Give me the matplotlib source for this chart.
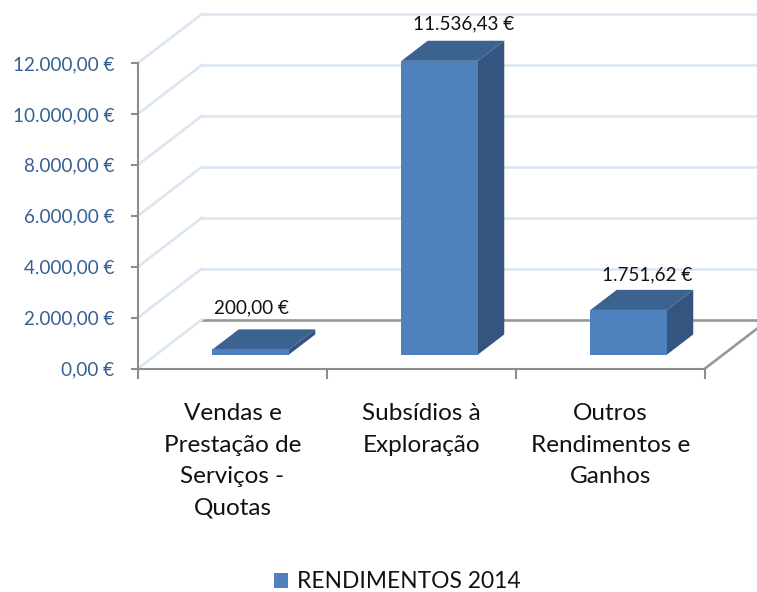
import numpy as np
import matplotlib
matplotlib.use("Agg")
import matplotlib.pyplot as plt

plt.rcParams["font.family"] = ["Lato", "DejaVu Sans"]

# data
categories = ["Vendas e\nPrestação de\nServiços -\nQuotas", "Subsídios à\nExploração", "Outros\nRendimentos e\nGanhos"]
values = [200.00, 11536.43, 1751.62]
value_labels = ["200,00 €", "11.536,43 €", "1.751,62 €"]
y_ticks = [0, 2000, 4000, 6000, 8000, 10000, 12000]
y_tick_labels = ["0,00 €", "2.000,00 €", "4.000,00 €", "6.000,00 €", "8.000,00 €", "10.000,00 €", "12.000,00 €"]
series_name = "RENDIMENTOS 2014"

# style
front_col = "#4F81BD"
top_col = "#3C6390"
side_col = "#34557F"
grid_col = "#DCE6F2"
axis_col = "#8C8C8C"
floor_col = "#989898"
tick_col = "#376092"
text_col = "#111111"
# label shift from the bar's back top edge, in points
label_shift = [(-18, 15.5), (-1.5, 12.5), (-5.8, 10.5)]

W, H = 757, 592
fig = plt.figure(figsize=(W / 100, H / 100), dpi=100)
ax = fig.add_axes([138 / W, (H - 368.5) / H, 567 / W, 305.5 / H])
ax.set_xlim(0, 3)
ax.set_ylim(0, 12000)

# depth of the fake 3d box in data units
depth_x = 64 / 189
depth_y = 49 / (305.5 / 12000)
bar_w = 0.405
start = 0.285
end = 0.695

# back wall and side grid
for v in y_ticks:
    col = floor_col if v == 0 else grid_col
    ax.plot([depth_x, 3 + depth_x], [v + depth_y, v + depth_y], color=col, lw=1.9, clip_on=False, zorder=1)
    ax.plot([0, depth_x], [v, v + depth_y], color=grid_col, lw=1.9, clip_on=False, zorder=1)
ax.plot([3, 3 + depth_x], [0, depth_y], color=floor_col, lw=1.9, clip_on=False, zorder=1)

x = np.arange(len(values)) + 0.5
x0 = x + depth_x * start - bar_w / 2
x1 = x0 + bar_w
y0 = depth_y * start
dx = depth_x * (end - start)
dy = depth_y * (end - start)

bars = ax.bar(x0, values, width=bar_w, bottom=y0, align="edge", color=front_col, clip_on=False, zorder=4, label=series_name)
for i, v in enumerate(values):
    top = y0 + v
    ax.fill([x0[i], x1[i], x1[i] + dx, x0[i] + dx], [top, top, top + dy, top + dy], color=top_col, lw=0, clip_on=False, zorder=3)
    ax.fill([x1[i], x1[i] + dx, x1[i] + dx, x1[i]], [y0, y0 + dy, top + dy, top], color=side_col, lw=0, clip_on=False, zorder=3)
    ax.annotate(value_labels[i], (x0[i] + dx + bar_w / 2, top + dy), xytext=label_shift[i], textcoords="offset points",
                ha="center", va="center", fontsize=13.6, color=text_col, annotation_clip=False, zorder=5)

for s in ["top", "right"]:
    ax.spines[s].set_visible(False)
for s in ["left", "bottom"]:
    ax.spines[s].set_color(axis_col)
    ax.spines[s].set_linewidth(1.5)
ax.patch.set_alpha(0)

ax.set_yticks(y_ticks)
ax.set_yticklabels(y_tick_labels, color=tick_col, fontsize=13.6)
ax.tick_params(axis="y", length=5, width=1.5, color=axis_col, pad=12)
ax.set_xticks([0, 1, 2, 3])
ax.set_xticklabels([])
ax.tick_params(axis="x", length=7, width=1.5, color=axis_col)
ax.set_xticks(x, minor=True)
ax.set_xticklabels(categories, minor=True, fontsize=17.5, color=text_col, linespacing=1.62)
ax.tick_params(axis="x", which="minor", length=0, pad=25)

fig.legend(handles=[bars], loc="center", bbox_to_anchor=(397.5 / W, (H - 582) / H), frameon=False, fontsize=16.4,
           labelcolor=text_col, handlelength=0.62, handleheight=0.62, handletextpad=0.4)

fig.savefig("out.png", dpi=100)
